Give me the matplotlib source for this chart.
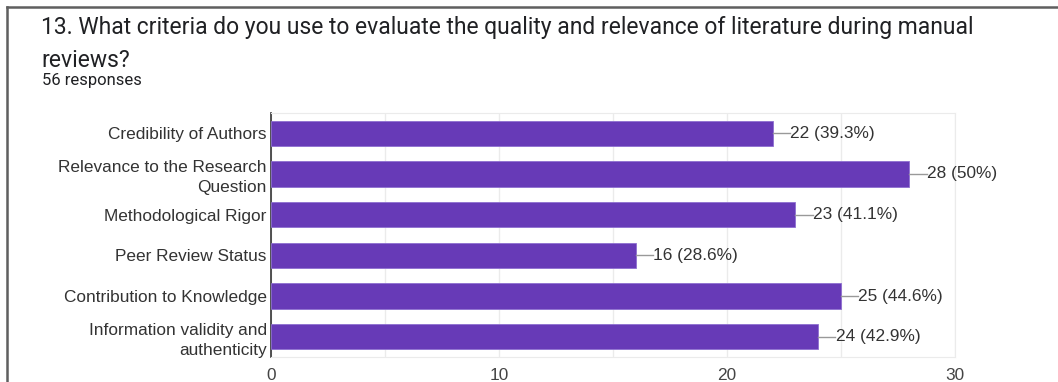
import matplotlib.pyplot as plt
from matplotlib.lines import Line2D

categories = [
    "Credibility of Authors",
    "Relevance to the Research\nQuestion",
    "Methodological Rigor",
    "Peer Review Status",
    "Contribution to Knowledge",
    "Information validity and\nauthenticity",
]
counts = [22, 28, 23, 16, 25, 24]
percents = ["39.3%", "50%", "41.1%", "28.6%", "44.6%", "42.9%"]
x_ticks = [0, 10, 20, 30]

title = ("13. What criteria do you use to evaluate the quality and relevance of literature during manual\n"
         "reviews?")
subtitle = "56 responses"

W, H = 1058, 382
fig = plt.figure(figsize=(W / 100, H / 100), dpi=100)

# frame around the card
fig.add_artist(Line2D([7 / W, 7 / W], [0, 1 - 7 / H], color="#5f5f5f", lw=1.8))
fig.add_artist(Line2D([7 / W, 1], [1 - 7 / H, 1 - 7 / H], color="#5f5f5f", lw=1.8))

fig.text(41 / W, 1 - 16 / H, title, fontsize=16.5, family="Roboto", color="#202124",
         va="top", ha="left", linespacing=1.55)
fig.text(42 / W, 1 - 80 / H, subtitle, fontsize=12, family="Roboto", color="#202124",
         va="center", ha="left")

lab_font = dict(fontsize=12.4, family="Liberation Sans", color="#333333")

ax = fig.add_axes([271 / W, 1 - 357 / H, (955 - 271) / W, (357 - 113) / H])
y = list(range(len(categories)))
ax.barh(y, counts, height=0.62, color="#673ab7", edgecolor="#8e6fd0", linewidth=0.6, zorder=3)

for yi, c, p in zip(y, counts, percents):
    ax.plot([c, c + 0.75], [yi, yi], color="#999999", lw=1, zorder=3, clip_on=False)
    ax.text(c + 0.76, yi, f"{c} ({p})", va="center", ha="left", clip_on=False, **lab_font)

ax.set_xlim(0, 30)
ax.set_ylim(len(categories) - 0.5, -0.5)
ax.set_yticks(y)
ax.set_yticklabels(categories, **lab_font)
for lbl in ax.get_yticklabels():
    lbl.set_linespacing(1.4)
ax.set_xticks(x_ticks)
ax.set_xticklabels([str(t) for t in x_ticks], fontsize=12.4, family="Liberation Sans",
                   color="#444444")
ax.set_xticks(range(0, 31, 5), minor=True)
ax.grid(axis="x", which="both", color="#ebebeb", lw=1, zorder=0)
ax.tick_params(length=0, which="both", pad=8)
ax.tick_params(axis="y", pad=3)

for s in ["top", "right", "bottom"]:
    ax.spines[s].set_color("#ebebeb")
ax.spines["left"].set_color("#333333")
ax.spines["left"].set_linewidth(1.2)

fig.savefig("out.png", dpi=100)
